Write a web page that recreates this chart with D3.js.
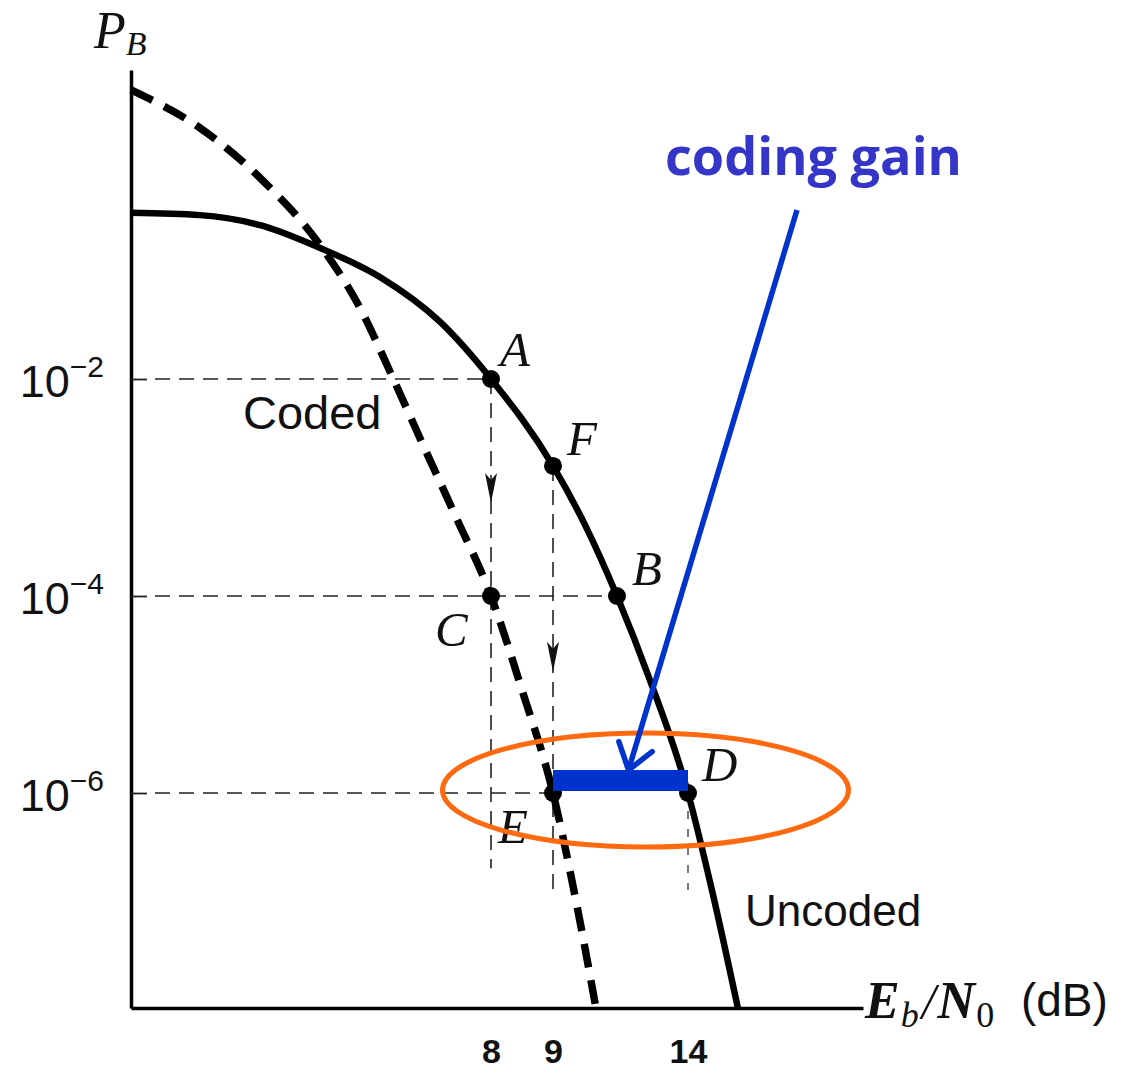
<!DOCTYPE html>
<html>
<head>
<meta charset="utf-8">
<script src="https://cdn.jsdelivr.net/npm/d3@7"></script>
<style>
  html, body { margin: 0; padding: 0; background: #fff; }
  svg { display: block; }
</style>
</head>
<body>
<svg id="chart" width="1138" height="1076"></svg>
<script>
// Labelled Eb/N0 values (dB) and bit error probabilities
const xTicks = [8, 9, 14];
const yTicks = [1e-2, 1e-4, 1e-6];
const yTickExponents = ["\u22122", "\u22124", "\u22126"];

// Uncoded bit error curve (Eb/N0 in dB, PB)
const uncodedDb = [0, 1.53, 2.87, 4.2, 5.53, 6.87, 8, 9, 10.19, 11.37, 12.59, 14, 14.82, 15.71];
const uncodedPb = [1.19e-1, 1.15e-1, 9.9e-2, 7.05e-2, 4.57e-2, 2.34e-2, 1e-2, 1.58e-3, 4.5e-4, 1e-4, 1.4e-5, 1e-6, 1.25e-7, 1e-8];

// Coded bit error curve
const codedDb = [0, 1.53, 2.87, 4.2, 5.09, 5.76, 6.42, 7.2, 8, 8.5, 9, 9.81, 10.59];
const codedPb = [7.43e-1, 4.22e-1, 2.0e-1, 7.36e-2, 2.88e-2, 1.11e-2, 2.86e-3, 5.58e-4, 1e-4, 1.11e-5, 1e-6, 1.12e-7, 1e-8];

// Operating points marked on the curves
const pointNames = ["A", "F", "B", "C", "D", "E"];
const pointDb = [8, 9, 11.37, 8, 14, 9];
const pointPb = [1e-2, 1.58e-3, 1e-4, 1e-4, 1e-6, 1e-6];

const svg = d3.select("#chart");

// The axes are drawn schematically, so both scales are piecewise.
const x = d3.scaleLinear()
  .domain([0, 8, 9, 14, 20])
  .range([131, 491, 553, 688, 863]);
const y = d3.scaleLog()
  .domain([1e-8, 1e-6, 1e-4, 1e-2, 1])
  .range([1008, 793, 596, 379, 70]);

const serif = "'Liberation Serif', 'DejaVu Serif', serif";
const sans = "'Liberation Sans', Arial, sans-serif";

// ---- dashed construction lines ----
const guides = svg.append("g")
  .attr("fill", "none")
  .attr("stroke", "#222")
  .attr("stroke-width", 1.6)
  .attr("stroke-dasharray", "15 9");

// horizontal: from the PB axis to the operating points
guides.append("line")
  .attr("x1", x(0) + 24).attr("x2", x(8)).attr("y1", y(1e-2)).attr("y2", y(1e-2));
guides.append("line")
  .attr("x1", x(0) + 24).attr("x2", x(11.37)).attr("y1", y(1e-4)).attr("y2", y(1e-4));
guides.append("line")
  .attr("x1", x(0) + 24).attr("x2", x(9)).attr("y1", y(1e-6)).attr("y2", y(1e-6));

// vertical: down from A, F and D
guides.append("line")
  .attr("x1", x(8)).attr("x2", x(8)).attr("y1", y(1e-2)).attr("y2", y(2e-7));
guides.append("line")
  .attr("x1", x(9)).attr("x2", x(9)).attr("y1", y(1.58e-3)).attr("y2", y(1.25e-7));
guides.append("line")
  .attr("x1", x(14)).attr("x2", x(14)).attr("y1", y(1e-6)).attr("y2", y(1.25e-7))
  .attr("stroke-width", 1.2).attr("stroke-dasharray", "8 10");

// small arrowheads pointing down the vertical construction lines
function downArrow(px, py) {
  svg.append("path")
    .attr("d", `M${px},${py} L${px - 6},${py - 30} L${px},${py - 23} L${px + 6},${py - 30} Z`)
    .attr("fill", "#111");
}
downArrow(x(8), y(7.2e-4));
downArrow(x(9), y(1.7e-5));

// ---- axes ----
const yAxis = d3.axisLeft(y)
  .tickValues(yTicks)
  .tickSizeInner(-16)
  .tickSizeOuter(0)
  .tickFormat(() => "");

const gy = svg.append("g")
  .attr("transform", `translate(${x(0)},0)`)
  .call(yAxis);
gy.select(".domain").attr("stroke", "#000").attr("stroke-width", 3.5);
gy.selectAll(".tick line").attr("stroke", "#222").attr("stroke-width", 1.8);
gy.selectAll(".tick").each(function (d, i) {
  const t = d3.select(this).append("text")
    .attr("x", -27)
    .attr("y", 17)
    .attr("text-anchor", "end")
    .attr("fill", "#111")
    .attr("font-family", sans);
  t.append("tspan").attr("font-size", 45).text("10");
  t.append("tspan").attr("font-size", 30).attr("dy", -20).text(yTickExponents[i]);
});

const xAxis = d3.axisBottom(x)
  .tickValues(xTicks)
  .tickSize(0)
  .tickPadding(31)
  .tickFormat(d3.format("d"));

const gx = svg.append("g")
  .attr("transform", `translate(0,${y(1e-8)})`)
  .call(xAxis);
gx.select(".domain").attr("stroke", "#000").attr("stroke-width", 3.5);
gx.selectAll(".tick text")
  .attr("font-family", sans)
  .attr("font-weight", "bold")
  .attr("font-size", 34)
  .attr("fill", "#111");

// axis titles
const pb = svg.append("text")
  .attr("x", 94).attr("y", 48)
  .attr("font-family", serif)
  .attr("font-style", "italic")
  .attr("fill", "#111");
pb.append("tspan").attr("font-size", 52).text("P");
pb.append("tspan").attr("font-size", 34).attr("dy", 7).text("B");

const eb = svg.append("text")
  .attr("x", 865).attr("y", 1018)
  .attr("fill", "#111");
eb.append("tspan").attr("font-family", serif).attr("font-style", "italic")
  .attr("font-weight", "bold").attr("font-size", 52).text("E");
eb.append("tspan").attr("font-family", serif).attr("font-style", "italic")
  .attr("font-size", 36).attr("dx", 1).attr("dy", 9).text("b");
eb.append("tspan").attr("font-family", serif).attr("font-style", "italic")
  .attr("font-size", 50).attr("dx", 3).attr("dy", -9).text("/");
eb.append("tspan").attr("font-family", serif).attr("font-style", "italic")
  .attr("font-weight", "bold").attr("font-size", 52).attr("dx", 2).text("N");
eb.append("tspan").attr("font-family", serif)
  .attr("font-size", 36).attr("dx", 1).attr("dy", 9).text("0");
eb.append("tspan").attr("font-family", sans)
  .attr("font-size", 46).attr("dx", 14).attr("dy", -11).text(" (dB)");

// ---- curves ----
const line = d3.line()
  .x(d => x(d[0]))
  .y(d => y(d[1]))
  .curve(d3.curveMonotoneX);

svg.append("path")
  .datum(d3.zip(uncodedDb, uncodedPb))
  .attr("d", line)
  .attr("fill", "none")
  .attr("stroke", "#000")
  .attr("stroke-width", 6.5);

svg.append("path")
  .datum(d3.zip(codedDb, codedPb))
  .attr("d", line)
  .attr("fill", "none")
  .attr("stroke", "#000")
  .attr("stroke-width", 7.5)
  .attr("stroke-dasharray", "24 13");

// ---- operating points ----
svg.append("g")
  .selectAll("circle")
  .data(pointNames)
  .join("circle")
  .attr("cx", (d, i) => x(pointDb[i]))
  .attr("cy", (d, i) => y(pointPb[i]))
  .attr("r", 9)
  .attr("fill", "#000");

const labelOffsets = {
  A: [9, -13], F: [14, -11], B: [15, -11],
  C: [-56, 50], D: [14, -12], E: [-55, 50]
};
svg.append("g")
  .selectAll("text")
  .data(pointNames)
  .join("text")
  .attr("x", (d, i) => x(pointDb[i]) + labelOffsets[d][0])
  .attr("y", (d, i) => y(pointPb[i]) + labelOffsets[d][1])
  .attr("font-family", serif)
  .attr("font-style", "italic")
  .attr("font-size", 49)
  .attr("fill", "#111")
  .text(d => d);

// curve names
svg.append("text")
  .attr("x", 243).attr("y", y(1e-2) + 50)
  .attr("font-family", sans).attr("font-size", 47).attr("fill", "#111")
  .text("Coded");
svg.append("text")
  .attr("x", 745).attr("y", y(1e-6) + 133)
  .attr("font-family", sans).attr("font-size", 44).attr("fill", "#111")
  .text("Uncoded");

// ---- coding gain annotation ----
const gainY = y(1e-6);
const gainMid = (x(9) + x(14)) / 2;

svg.append("ellipse")
  .attr("cx", gainMid + 25)
  .attr("cy", gainY - 3)
  .attr("rx", 203)
  .attr("ry", 57)
  .attr("fill", "none")
  .attr("stroke", "#ff6a10")
  .attr("stroke-width", 5);

svg.append("rect")
  .attr("x", x(9))
  .attr("y", gainY - 23)
  .attr("width", x(14) - x(9))
  .attr("height", 21)
  .attr("fill", "#0033cc");

const tip = [gainMid + 8, gainY - 23];
const tail = [797, 210];
svg.append("line")
  .attr("x1", tail[0]).attr("y1", tail[1])
  .attr("x2", tip[0]).attr("y2", tip[1])
  .attr("stroke", "#0033cc")
  .attr("stroke-width", 5.5);
{
  const ang = Math.atan2(tail[1] - tip[1], tail[0] - tip[0]);
  const len = 30, spread = 0.62;
  const p1 = [tip[0] + len * Math.cos(ang + spread), tip[1] + len * Math.sin(ang + spread)];
  const p2 = [tip[0] + len * Math.cos(ang - spread), tip[1] + len * Math.sin(ang - spread)];
  svg.append("path")
    .attr("d", `M${p1[0]},${p1[1]} L${tip[0]},${tip[1]} L${p2[0]},${p2[1]}`)
    .attr("fill", "none")
    .attr("stroke", "#0033cc")
    .attr("stroke-width", 5.5)
    .attr("stroke-linecap", "round")
    .attr("stroke-linejoin", "round");
}

const gainText = svg.append("text")
  .attr("x", 665).attr("y", 175)
  .attr("font-family", "'Open Sans', 'Noto Sans', sans-serif")
  .attr("font-weight", "bold")
  .attr("font-size", 50)
  .attr("fill", "#3535c8")
  .text("coding gain");
{
  const w = gainText.node().getComputedTextLength();
  gainText.attr("font-size", 50 * 297 / w);
}
</script>
</body>
</html>
